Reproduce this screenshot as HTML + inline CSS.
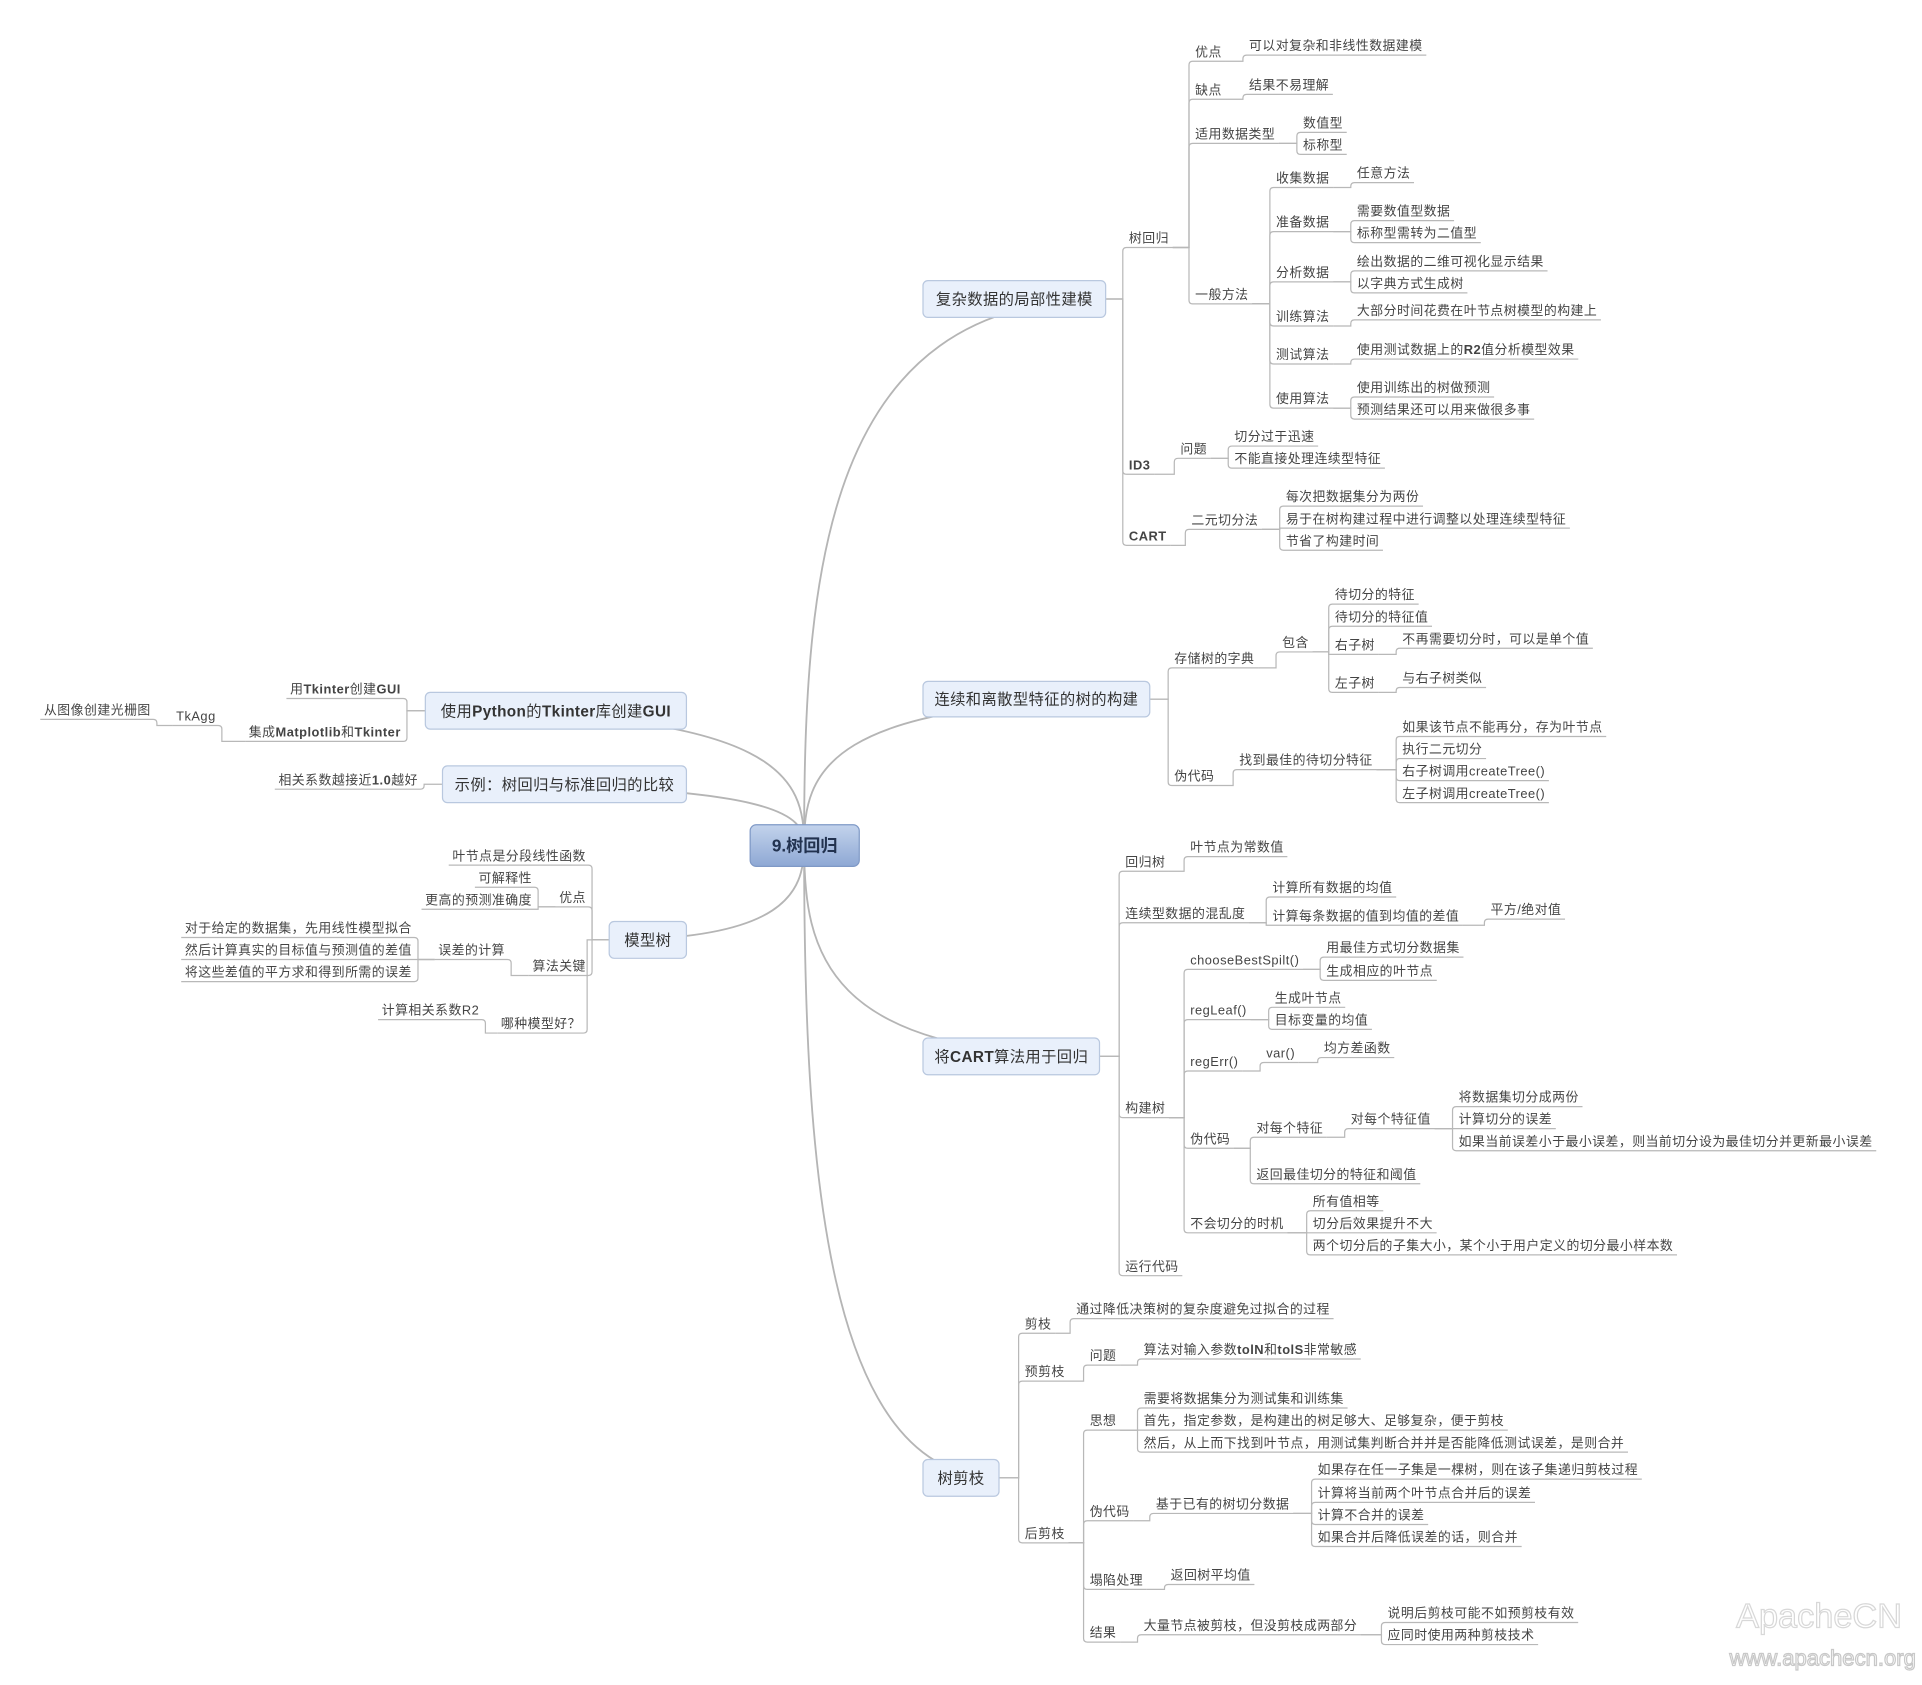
<!DOCTYPE html>
<html><head><meta charset="utf-8"><style>
html,body{margin:0;padding:0;background:#fff;}
svg{display:block;}
text{font-family:"Liberation Sans","Noto Sans CJK SC",sans-serif;font-size:10.5px;fill:#444;letter-spacing:0.4px;}
.bx{font-size:12.5px;fill:#333;letter-spacing:0.3px;}
</style></head><body>
<svg id="s" width="1922" height="1685" viewBox="0 0 1568 1375" preserveAspectRatio="none" xmlns="http://www.w3.org/2000/svg">
<defs><linearGradient id="cg" x1="0" y1="0" x2="0" y2="1"><stop offset="0" stop-color="#c3d3ec"/><stop offset="1" stop-color="#8ea8d4"/></linearGradient></defs>
<g id="curves" fill="none" stroke="#b5b5b5" stroke-width="1.5"></g>
<g id="lines" fill="none" stroke="#b8b8b8" stroke-width="1"></g>
<g id="boxes"></g>
<g id="txt"></g>
<rect x="612" y="673" width="89" height="34" rx="5" fill="url(#cg)" stroke="#7f99c6"/>
<text x="656.5" y="695" text-anchor="middle" style="font-size:14px;font-weight:bold;fill:#22324f;letter-spacing:0">9.树回归</text>
<text x="1484" y="1328" text-anchor="middle" style="font-size:28px;fill:#fff;stroke:#d8d8d8;stroke-width:1;letter-spacing:0">ApacheCN</text>
<text x="1487" y="1359" text-anchor="middle" style="font-size:18px;fill:#fff;stroke:#c8c8c8;stroke-width:1;letter-spacing:0">www.apachecn.org</text>
</svg>
<script>
const NS="http://www.w3.org/2000/svg";
const C=(t,x,y,ch,o)=>({t,x,y,ch:ch||[],o:o||{}});
function el(g,tag,a){const e=document.createElementNS(NS,tag);for(const k in a)e.setAttribute(k,a[k]);document.getElementById(g).appendChild(e);return e;}
function mkText(g,s,x,y,anchor,cls){const t=el(g,'text',{x:x,y:y,'text-anchor':anchor||'start'});if(cls)t.setAttribute('class',cls);
 s.split('*').forEach((p,i)=>{if(!p)return;const ts=document.createElementNS(NS,'tspan');ts.textContent=p;if(i%2)ts.setAttribute('font-weight','bold');t.appendChild(ts);});return t;}
function path(d){el('lines','path',{d});}
function conn(ax,ay,sx,u,end){let d='M'+ax+','+ay+' H'+sx;
 if(Math.abs(u-ay)>3){const s=u>ay?1:-1;const dir=end>sx?1:-1;d+=' V'+(u-3*s)+' Q'+sx+','+u+' '+(sx+3*dir)+','+u;}else d+=' V'+u;
 d+=' H'+end;path(d);}
function drawR(n,a){const t=mkText('txt',n.t,n.x,n.y+4);const w=t.getBBox().width;const end=n.x+w+3,u=n.y+8;
 if(a)conn(a.ax,a.ay,n.x-5,u,end);
 n.ch.forEach(c=>drawR(c,{ax:end,ay:u}));}
function drawL(n,a){const t=mkText('txt',n.t,n.x,n.y+4,'end');const w=t.getBBox().width;const st=n.x-w-3,u=n.y+8;
 if(a)conn(a.ax,a.ay,n.x+5,u,st);
 n.ch.forEach(c=>drawL(c,{ax:st,ay:u}));}
function box(t,x,y,w,h,ch,left){el('boxes','rect',{x,y,width:w,height:h,rx:4,fill:'#e9f0fb',stroke:'#b9c8df'});
 mkText('boxes',t,x+w/2,y+h/2+4.5,'middle','bx');
 const cy=y+h/2;const bx=left?x:x+w;
 el('curves','path',{d:`M656,690 C656,${(690+cy)/2} ${left?640:672},${cy} ${bx},${cy}`});
 ch.forEach(c=>left?drawL(c,{ax:bx,ay:cy}):drawR(c,{ax:bx,ay:cy}));}

box('复杂数据的局部性建模',753,229,149,30,[
 C('树回归',921,194,[
  C('优点',975,42,[C('可以对复杂和非线性数据建模',1019,37)]),
  C('缺点',975,73,[C('结果不易理解',1019,69)]),
  C('适用数据类型',975,109,[C('数值型',1063,100),C('标称型',1063,118)]),
  C('一般方法',975,240,[
   C('收集数据',1041,145,[C('任意方法',1107,141)]),
   C('准备数据',1041,181,[C('需要数值型数据',1107,172),C('标称型需转为二值型',1107,190)]),
   C('分析数据',1041,222,[C('绘出数据的二维可视化显示结果',1107,213),C('以字典方式生成树',1107,231)]),
   C('训练算法',1041,258,[C('大部分时间花费在叶节点树模型的构建上',1107,253)]),
   C('测试算法',1041,289,[C('使用测试数据上的*R2*值分析模型效果',1107,285)]),
   C('使用算法',1041,325,[C('使用训练出的树做预测',1107,316),C('预测结果还可以用来做很多事',1107,334)])])]),
 C('*ID3*',921,379,[C('问题',963,366,[C('切分过于迅速',1007,356),C('不能直接处理连续型特征',1007,374)])]),
 C('*CART*',921,437,[C('二元切分法',972,424,[C('每次把数据集分为两份',1049,405),C('易于在树构建过程中进行调整以处理连续型特征',1049,423),C('节省了构建时间',1049,441)])])]);

box('连续和离散型特征的树的构建',753,556,185,29,[
 C('存储树的字典',958,537,[C('包含',1046,524,[C('待切分的特征',1089,485),C('待切分的特征值',1089,503),
  C('右子树',1089,526,[C('不再需要切分时，可以是单个值',1144,521)]),C('左子树',1089,557,[C('与右子树类似',1144,553)])])]),
 C('伪代码',958,633,[C('找到最佳的待切分特征',1011,620,[C('如果该节点不能再分，存为叶节点',1144,593),C('执行二元切分',1144,611),C('右子树调用createTree()',1144,629),C('左子树调用createTree()',1144,647)])])]);

box('将*CART*算法用于回归',753,847,144,30,[
 C('回归树',918,703,[C('叶节点为常数值',971,691)]),
 C('连续型数据的混乱度',918,745,[C('计算所有数据的均值',1038,724),C('计算每条数据的值到均值的差值',1038,747,[C('平方/绝对值',1216,742)])]),
 C('构建树',918,904,[
  C('chooseBestSpilt()',971,783,[C('用最佳方式切分数据集',1082,773),C('生成相应的叶节点',1082,792)]),
  C('regLeaf()',971,824,[C('生成叶节点',1040,814),C('目标变量的均值',1040,832)]),
  C('regErr()',971,866,[C('var()',1033,859,[C('均方差函数',1080,855)])]),
  C('伪代码',971,929,[C('对每个特征',1025,920,[C('对每个特征值',1102,913,[C('将数据集切分成两份',1190,895),C('计算切分的误差',1190,913),C('如果当前误差小于最小误差，则当前切分设为最佳切分并更新最小误差',1190,931)])]),C('返回最佳切分的特征和阈值',1025,958)]),
  C('不会切分的时机',971,998,[C('所有值相等',1071,980),C('切分后效果提升不大',1071,998),C('两个切分后的子集大小，某个小于用户定义的切分最小样本数',1071,1016)])]),
 C('运行代码',918,1033)]);

box('树剪枝',753,1191,62,30,[
 C('剪枝',836,1080,[C('通过降低决策树的复杂度避免过拟合的过程',878,1068)]),
 C('预剪枝',836,1119,[C('问题',889,1106,[C('算法对输入参数*tolN*和*tolS*非常敏感',933,1101)])]),
 C('后剪枝',836,1251,[
  C('思想',889,1159,[C('需要将数据集分为测试集和训练集',933,1141),C('首先，指定参数，是构建出的树足够大、足够复杂，便于剪枝',933,1159),C('然后，从上而下找到叶节点，用测试集判断合并并是否能降低测试误差，是则合并',933,1177)]),
  C('伪代码',889,1233,[C('基于已有的树切分数据',943,1227,[C('如果存在任一子集是一棵树，则在该子集递归剪枝过程',1075,1199),C('计算将当前两个叶节点合并后的误差',1075,1218),C('计算不合并的误差',1075,1236),C('如果合并后降低误差的话，则合并',1075,1254)])]),
  C('塌陷处理',889,1289,[C('返回树平均值',955,1285)]),
  C('结果',889,1332,[C('大量节点被剪枝，但没剪枝成两部分',933,1326,[C('说明后剪枝可能不如预剪枝有效',1132,1316),C('应同时使用两种剪枝技术',1132,1334)])])])]);

box('使用*Python*的*Tkinter*库创建*GUI*',347,565,213,30,[
 C('用*Tkinter*创建*GUI*',327,562),
 C('集成*Matplotlib*和*Tkinter*',327,597,[C('TkAgg',176,584,[C('从图像创建光栅图',123,579)])])],true);
box('示例：树回归与标准回归的比较',361,625,199,30,[C('相关系数越接近*1.0*越好',341,636)],true);
box('模型树',497,752,63,30,[
 C('叶节点是分段线性函数',478,698),
 C('优点',478,732,[C('可解释性',434,716),C('更高的预测准确度',434,734)]),
 C('算法关键',478,788,[C('误差的计算',412,775,[C('对于给定的数据集，先用线性模型拟合',336,757),C('然后计算真实的目标值与预测值的差值',336,775),C('将这些差值的平方求和得到所需的误差',336,793)])]),
 C('哪种模型好？',474,835,[C('计算相关系数R2',391,824)])],true);
</script>
</body></html>
